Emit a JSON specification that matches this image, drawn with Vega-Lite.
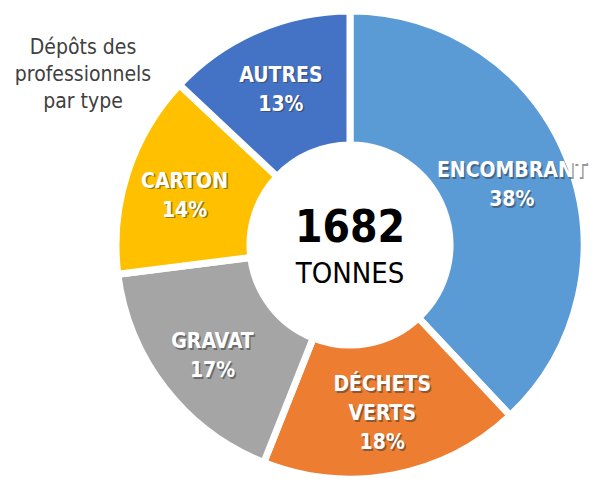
{
  "$schema": "https://vega.github.io/schema/vega-lite/v6.json",
  "width": 470,
  "height": 470,
  "autosize": {"type": "none"},
  "padding": {"left": 115, "top": 10, "right": 10, "bottom": 5},
  "background": "white",
  "config": {"view": {"stroke": null}, "font": "DejaVu Sans Condensed"},
  "data": {
    "values": [
      {"category": "ENCOMBRANT", "pct": 38, "rank": 1, "lines": 2, "label": "ENCOMBRANT\n38%"},
      {"category": "DÉCHETS VERTS", "pct": 18, "rank": 2, "lines": 3, "label": "DÉCHETS\nVERTS\n18%"},
      {"category": "GRAVAT", "pct": 17, "rank": 3, "lines": 2, "label": "GRAVAT\n17%"},
      {"category": "CARTON", "pct": 14, "rank": 4, "lines": 2, "label": "CARTON\n14%"},
      {"category": "AUTRES", "pct": 13, "rank": 5, "lines": 2, "label": "AUTRES\n13%"}
    ]
  },
  "encoding": {
    "theta": {"field": "pct", "type": "quantitative", "stack": true},
    "order": {"field": "rank", "type": "quantitative"}
  },
  "layer": [
    {
      "mark": {"type": "arc", "innerRadius": 100, "outerRadius": 234, "stroke": "white", "strokeWidth": 7},
      "encoding": {
        "color": {
          "field": "category",
          "type": "nominal",
          "legend": null,
          "scale": {
            "domain": ["ENCOMBRANT", "DÉCHETS VERTS", "GRAVAT", "CARTON", "AUTRES"],
            "range": ["#5B9BD5", "#ED7D31", "#A5A5A5", "#FFC000", "#4472C4"]
          }
        }
      }
    },
    {
      "mark": {"type": "text", "radius": 174, "fontSize": 21, "fontWeight": "bold", "fill": "#333333", "lineBreak": "\n", "lineHeight": 29, "dx": 1.5, "dy": -8},
      "encoding": {
        "text": {"field": "label"},
        "detail": {"field": "category"},
        "opacity": {"condition": {"test": "datum.lines == 2", "value": 0.5}, "value": 0}
      }
    },
    {
      "mark": {"type": "text", "radius": 172, "fontSize": 21, "fontWeight": "bold", "fill": "#333333", "lineBreak": "\n", "lineHeight": 29, "dx": 1.5, "dy": -27},
      "encoding": {
        "text": {"field": "label"},
        "detail": {"field": "category"},
        "opacity": {"condition": {"test": "datum.lines == 3", "value": 0.5}, "value": 0}
      }
    },
    {
      "mark": {"type": "text", "radius": 174, "fontSize": 21, "fontWeight": "bold", "fill": "white", "lineBreak": "\n", "lineHeight": 29, "dy": -9.5},
      "encoding": {
        "text": {"field": "label"},
        "detail": {"field": "category"},
        "opacity": {"condition": {"test": "datum.lines == 2", "value": 1}, "value": 0}
      }
    },
    {
      "mark": {"type": "text", "radius": 172, "fontSize": 21, "fontWeight": "bold", "fill": "white", "lineBreak": "\n", "lineHeight": 29, "dy": -28.5},
      "encoding": {
        "text": {"field": "label"},
        "detail": {"field": "category"},
        "opacity": {"condition": {"test": "datum.lines == 3", "value": 1}, "value": 0}
      }
    },
    {
      "data": {"values": [{"t": "1682"}]},
      "mark": {"type": "text", "fontSize": 44, "fontWeight": "bold", "fill": "black", "dy": -16},
      "encoding": {"text": {"field": "t"}, "theta": null, "order": null}
    },
    {
      "data": {"values": [{"t": "TONNES"}]},
      "mark": {"type": "text", "fontSize": 29, "fill": "black", "dy": 29},
      "encoding": {"text": {"field": "t"}, "theta": null, "order": null}
    },
    {
      "data": {"values": [{"t": "Dépôts des\nprofessionnels\npar type"}]},
      "mark": {"type": "text", "fontSize": 21, "fill": "#404040", "lineBreak": "\n", "lineHeight": 27, "dx": -267, "dy": -197},
      "encoding": {"text": {"field": "t"}, "theta": null, "order": null}
    }
  ]
}
